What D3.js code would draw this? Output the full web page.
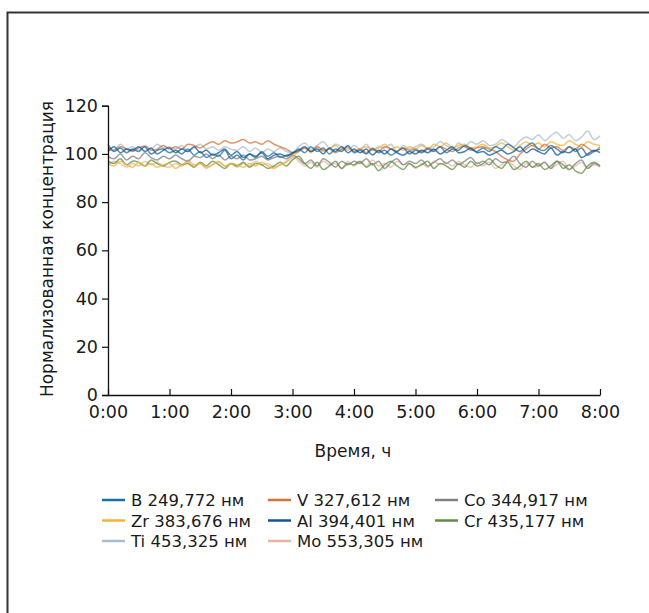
<!DOCTYPE html>
<html><head><meta charset="utf-8">
<script src="https://cdn.jsdelivr.net/npm/d3@7"></script>
<style>
html,body{margin:0;padding:0;background:#fff;}
svg{display:block;font-family:"DejaVu Sans",sans-serif;}
</style></head>
<body><svg id="c" width="649" height="613"></svg>
<script>
// hours, every 0.1 h from 0:00 to 8:00
const hours = d3.range(0, 81).map(i => i / 10);
const xTickLabels = ["0:00","1:00","2:00","3:00","4:00","5:00","6:00","7:00","8:00"];
const yTicks = [0,20,40,60,80,100,120];
const seriesNames = ["B 249,772 нм","V 327,612 нм","Co 344,917 нм","Zr 383,676 нм","Al 394,401 нм","Cr 435,177 нм","Ti 453,325 нм","Mo 553,305 нм"];
const seriesColors = ["#1b6fa3","#d6713b","#808080","#f5b234","#0f5795","#5e903f","#a9bdd1","#e8b4a3"];

const B = [104,101,102.5,100.5,102,101,103,100,101.5,102,100.5,
 101.5,100,102,99.5,101,98.5,100,99,101.5,98,
 99.5,97.5,100,98.5,101,99,100.5,98.5,99.5,100,
 102,100.5,103,101,102.5,100,102,101,103.5,100.5,
 101.5,100,102,100.5,101.5,99.5,101,102.5,100,101.5,
 100.5,102,101,103,100.5,102,101.5,103.5,102,101,
 102.5,101,103,102,104,102.5,101,103,104.5,102,
 101.5,103.5,102,100.5,103,101,102.5,99.5,101,102];
const V = [102,101.5,103,102,101,102.5,103,101.5,102,103.5,102,
 103,102,104,103.5,102.5,104,105,104,105.5,104.5,
 105,106,104.5,105,104,105.5,104,103,102,100.5,
 101,102.5,101,103,101.5,102,100.5,102,103,101,
 102,100.5,102.5,101,103,102,101,102.5,101.5,102,
 101,102.5,101.5,103,102,101,102.5,103,101.5,102.5,
 103,102,101,99,97.5,97,100,102,103.5,102,
 104,102.5,103,101.5,103,102,104,102.5,101,103];
const Co = [99,98,100,97.5,99,98,100.5,98.5,97.5,99,98,
 99.5,98,97,99,98.5,100,98,99.5,97.5,99,
 98,99.5,97.5,98,99,97.5,98.5,99,98,99.5,
 98,96,97.5,95,98,96.5,94.5,97,95.5,97,
 96,98,95.5,97,94,96.5,98,95.5,97,96,
 97.5,95,96.5,98,96,97.5,95.5,97,98.5,96,
 97,95.5,98,96.5,97,99,96,94.5,97,95,
 96.5,94,97,95.5,93.5,96,97.5,94,96,95];
const Zr = [96,95,97,95.5,94.5,96.5,95,96,94.5,95.5,96,
 94,95.5,96.5,95,96,94.5,95.5,97,95,96,
 95.5,94.5,96,95,96.5,95,94,95.5,96.5,98.5,
 101,102.5,100.5,103,101,102,103.5,101.5,102.5,101,
 102,103,101.5,102.5,104,102,103,101.5,103,102,
 103.5,102,104,103,104.5,102.5,103.5,104,102.5,103,
 104,102.5,103,104.5,103,101.5,103.5,105,103.5,104.5,
 103,105,104,103.5,105.5,104,103,105,104,103.5];
const Al = [101,103,100.5,102,101.5,103,101,102.5,100,101.5,102.5,
 100.5,102,101,103,100.5,101.5,99.5,100.5,102,99.5,
 101,98.5,100,99,100.5,98,99.5,100,99,100.5,
 101.5,103,101,102,100,102.5,101,103,100.5,102,
 100.5,102,99.5,101.5,100,102,100.5,99.5,101,100,
 101.5,100.5,102,100,101.5,103,100.5,101,102.5,100.5,
 101,99.5,100.5,101.5,100,101,103,100.5,102,101,
 100,102.5,99.5,101,100.5,102,98.5,100,101.5,100.5];
const Cr = [97,96,98,95.5,97,96.5,95,97.5,96,95,96.5,
 97,95.5,96,94.5,96.5,95,97,95.5,94,96,
 95,96.5,94.5,96,95.5,94,95,96.5,95,97.5,
 99,96,94,96.5,93.5,95,97,94,96,95.5,
 97,94.5,96,93,95.5,97,95,93.5,96,94.5,
 95.5,97,94,96,95,93.5,96,94.5,97,95,
 96,98,95.5,94,96.5,93.5,95,97,94.5,96,
 93.5,95,97,94,95.5,93,92,95,96.5,95];
const Ti = [103,101.5,104,102,103,101.5,103.5,102,104,102.5,103,
 102,103.5,101,102.5,104,102,103,101.5,103,102,
 101.5,103,101,102.5,100.5,102,101,102.5,101,100.5,
 103,104.5,102,103.5,105,102.5,104,103,101.5,103.5,
 102,104,101.5,103,102.5,104,101,103.5,102,103,
 104,102.5,103,105,103.5,102,104.5,103,105,104,
 105.5,103.5,104,106,104.5,103,105.5,107,106,108,
 105.5,107.5,109,106.5,108,105.5,107,109.5,106,107.5];
const Mo = [95.5,97,96,94.5,96,95,97,95.5,96.5,95,94.5,
 96,95,97.5,95.5,96,94,95.5,96.5,95,96,
 94.5,96,95,97,95.5,96,94.5,95.5,97,99,
 97,95,96.5,94.5,97,95.5,96,94,97,95,
 96.5,95,97.5,95,96,94.5,97,95.5,96,94,
 96,94.5,97,95.5,96.5,95,97,95.5,94.5,96.5,
 95,96.5,94,95.5,97,95,93.5,96,94.5,95,
 96.5,94,95.5,97,93.5,95,96.5,94,95.5,94.5];
const seriesValues = [B, V, Co, Zr, Al, Cr, Ti, Mo];

const svg = d3.select("#c");
const mLeft = 108, mRight = 600, mTop = 105.7, mBottom = 395;
const x = d3.scaleLinear().domain([0, 8]).range([mLeft, mRight]);
const y = d3.scaleLinear().domain([0, 120]).range([mBottom, mTop]);
const FONT = "DejaVu Sans";

// frame
svg.append("rect").attr("x", 0).attr("y", 0).attr("width", 649).attr("height", 613).attr("fill", "#fff");
svg.append("path").attr("d", "M7.5,700 V12.5 H700").attr("fill", "none").attr("stroke", "#333").attr("stroke-width", 2);

// lines
const line = d3.line().x((d, i) => x(hours[i])).y(d => y(d)).curve(d3.curveCatmullRom.alpha(0.5));
const drawOrder = [6, 7, 2, 5, 3, 1, 0, 4];
drawOrder.forEach(k => {
  svg.append("path").datum(seriesValues[k]).attr("d", line)
    .attr("fill", "none").attr("stroke", seriesColors[k])
    .attr("stroke-width", 1.5).attr("stroke-opacity", 0.75).attr("stroke-linejoin", "round");
});

// y axis
const yAxis = svg.append("g").attr("transform", `translate(${mLeft},0)`)
  .call(d3.axisLeft(y).tickValues(yTicks).tickSize(6).tickPadding(4));
yAxis.select(".domain").attr("stroke", "#111").attr("stroke-width", 1.3);
yAxis.selectAll(".tick line").attr("stroke", "#111").attr("stroke-width", 1.2);
yAxis.selectAll("text").attr("font-size", 17.5).attr("fill", "#1a1a1a").attr("font-family", FONT);

// x axis
const xAxis = svg.append("g").attr("transform", `translate(0,${mBottom})`)
  .call(d3.axisBottom(x).tickValues(d3.range(0, 9)).tickFormat((d, i) => xTickLabels[i]).tickSize(0).tickPadding(11));
xAxis.select(".domain").attr("stroke", "#111").attr("stroke-width", 1.3);
xAxis.selectAll(".tick").append("line").attr("y1", 0).attr("y2", -6).attr("stroke", "#111").attr("stroke-width", 1.2);
xAxis.selectAll("text").attr("font-size", 17.5).attr("fill", "#1a1a1a").attr("font-family", FONT);

// axis titles
svg.append("text").attr("x", 353).attr("y", 457).attr("text-anchor", "middle")
  .attr("font-size", 17).attr("fill", "#1a1a1a").text("Время, ч");
svg.append("text").attr("transform", "translate(53,249) rotate(-90)").attr("text-anchor", "middle")
  .attr("font-size", 17).attr("fill", "#1a1a1a").text("Нормализованная концентрация");

// legend
const colX = [102, 268, 435];
const rowY = [500, 520.5, 541];
seriesNames.forEach((name, i) => {
  const g = svg.append("g").attr("transform", `translate(${colX[i % 3]},${rowY[Math.floor(i / 3)]})`);
  g.append("line").attr("x1", 0).attr("x2", 23).attr("y1", 0).attr("y2", 0)
    .attr("stroke", seriesColors[i]).attr("stroke-width", 2.5);
  g.append("text").attr("x", 29).attr("y", 6).attr("font-size", 16.5).attr("fill", "#1a1a1a").text(name);
});
</script></body></html>
